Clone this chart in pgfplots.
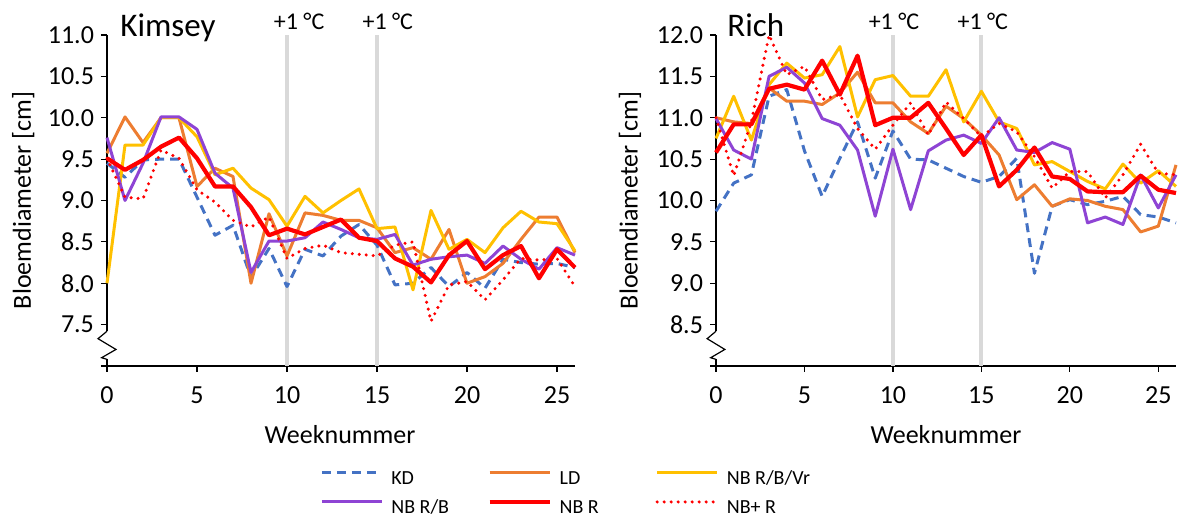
\documentclass[border=0pt]{standalone}
\usepackage{pgfplots}
\pgfplotsset{compat=1.18}
\usepackage{pgfplotstable}
\usepackage{fontspec}
\setmainfont{Carlito}

\definecolor{kd}{HTML}{4472C4}
\definecolor{ld}{HTML}{ED7D31}
\definecolor{vr}{HTML}{FFC000}
\definecolor{rb}{HTML}{8E44D4}
\definecolor{nbr}{HTML}{FF0000}
\definecolor{gline}{HTML}{D9D9D9}

\pgfplotstableread{
w KD LD Vr RB R NBR
0 9.45 9.57 8.00 9.76 9.51 9.51
1 9.28 10.01 9.67 9.00 9.37 9.04
2 9.49 9.70 9.67 9.45 9.49 9.02
3 9.50 10.00 10.00 10.01 9.65 9.61
4 9.50 10.00 10.00 10.01 9.76 9.51
5 9.04 9.17 9.77 9.86 9.51 9.13
6 8.58 9.39 9.31 9.33 9.17 8.98
7 8.70 9.29 9.39 9.15 9.17 8.76
8 8.07 8.00 9.15 8.13 8.92 8.68
9 8.42 8.84 9.01 8.51 8.58 8.80
10 7.96 8.33 8.69 8.51 8.66 8.30
11 8.41 8.85 9.05 8.55 8.59 8.42
12 8.33 8.82 8.85 8.74 8.68 8.46
13 8.57 8.76 9.00 8.65 8.77 8.37
14 8.71 8.76 9.14 8.55 8.55 8.35
15 8.46 8.67 8.66 8.53 8.51 8.33
16 7.98 8.37 8.68 8.59 8.30 8.46
17 8.00 8.43 7.92 8.22 8.20 8.50
18 8.19 8.29 8.88 8.29 8.01 7.54
19 7.96 8.65 8.41 8.32 8.34 7.98
20 8.13 8.00 8.53 8.34 8.51 8.02
21 7.94 8.08 8.37 8.24 8.17 7.80
22 8.29 8.24 8.67 8.45 8.34 8.04
23 8.25 8.53 8.87 8.29 8.45 8.30
24 8.23 8.80 8.74 8.17 8.06 8.28
25 8.24 8.80 8.72 8.43 8.41 8.30
26 8.19 8.37 8.39 8.34 8.19 7.96
}\kimsey

\pgfplotstableread{
w KD LD Vr RB R NBR
0 9.87 11.00 10.75 10.99 10.58 11.00
1 10.21 10.95 11.26 10.61 10.92 10.30
2 10.31 10.93 10.73 10.50 10.92 10.95
3 11.26 11.36 11.40 11.50 11.35 12.00
4 11.34 11.20 11.66 11.61 11.40 11.52
5 10.60 11.20 11.48 11.42 11.34 11.62
6 10.05 11.16 11.52 10.99 11.69 11.22
7 10.51 11.30 11.86 10.91 11.28 11.28
8 10.95 11.55 11.01 10.61 11.75 10.87
9 10.27 11.18 11.46 9.81 10.91 10.62
10 10.84 11.18 11.51 10.62 11.00 10.91
11 10.50 10.95 11.26 9.89 11.00 11.18
12 10.49 10.81 11.26 10.60 11.18 10.79
13 10.39 11.14 11.58 10.73 10.87 11.19
14 10.29 10.99 10.95 10.79 10.55 10.99
15 10.22 10.79 11.32 10.69 10.79 10.77
16 10.29 10.55 10.95 11.00 10.17 10.93
17 10.51 10.01 10.87 10.61 10.37 10.83
18 9.12 10.19 10.43 10.58 10.64 10.53
19 9.93 9.93 10.47 10.70 10.29 10.15
20 10.01 10.02 10.35 10.62 10.26 10.35
21 9.95 10.00 10.23 9.73 10.11 10.35
22 9.99 9.93 10.14 9.80 10.10 10.03
23 10.05 9.89 10.44 9.71 10.10 10.31
24 9.83 9.62 10.21 10.31 10.30 10.68
25 9.80 9.69 10.36 9.91 10.13 10.33
26 9.73 10.43 10.17 10.31 10.09 10.31
}\rich

\pgfplotsset{
  kdstyle/.style={kd, line width=1.5pt, dash pattern=on 4.5pt off 3pt},
  ldstyle/.style={ld, line width=1.5pt},
  vrstyle/.style={vr, line width=1.5pt},
  rbstyle/.style={rb, line width=1.5pt},
  rstyle/.style={nbr, line width=2.1pt},
  nbrstyle/.style={nbr, line width=1.7pt, line cap=round, dash pattern=on 0pt off 3.5pt},
  base/.style={
    scale only axis, height=165.5pt,
    xmin=0, xmax=26, xtick={0,5,...,25},
    axis x line*=bottom, axis y line*=left,
    axis line style={-, line width=0.6pt},
    tick align=outside, major tick length=3pt,
    tick style={black, line width=0.6pt},
    /pgf/number format/assume math mode=true,
    tick label style={font=\fontsize{13}{15}\selectfont},
    yticklabel style={/pgf/number format/fixed, /pgf/number format/fixed zerofill, /pgf/number format/precision=1},
    xticklabel style={yshift=-4pt},
    label style={font=\fontsize{13}{15}\selectfont},
    xlabel={Weeknummer},
    ylabel={Bloemdiameter [cm]},
    clip=false,
    every axis plot/.append style={line join=round},
  },
  legax/.style={
    at={(0pt,0pt)}, anchor=south west, scale only axis, width=234pt, height=165.5pt,
    hide axis, xmin=0, xmax=1, ymin=0, ymax=1,
    legend cell align=left,
    legend style={anchor=north west, draw=none, fill=none, inner sep=0pt,
      row sep=5.5pt, column sep=4pt, font=\fontsize{10}{12}\selectfont,
      nodes={inner sep=0pt, text height=7pt, text depth=2pt}},
    legend image code/.code={\draw (0pt,3.2pt) -- (30pt,3.2pt);},
  },
}

\begin{document}
\begin{tikzpicture}
\useasboundingbox (-53.5pt,-81.5pt) rectangle (536pt,183pt);
% Kimsey
\begin{axis}[base, at={(0pt,0pt)}, anchor=south west, width=234pt,
  ymin=7, ymax=11, ytick={7.5,8,...,11}, extra y ticks={7}, extra y tick labels={},
  xlabel style={at={(axis description cs:0.498,0)}, anchor=center, yshift=-34.5pt},
  ylabel style={at={(axis description cs:-0.179,0.5)}, anchor=center}]
\addplot[gline, line width=2pt, forget plot] coordinates {(10,7) (10,11)};
\addplot[gline, line width=2pt, forget plot] coordinates {(15,7) (15,11)};
\addplot[kdstyle] table[x=w, y=KD] {\kimsey};
\addplot[ldstyle] table[x=w, y=LD] {\kimsey};
\addplot[vrstyle] table[x=w, y=Vr] {\kimsey};
\addplot[rbstyle] table[x=w, y=RB] {\kimsey};
\addplot[rstyle] table[x=w, y=R] {\kimsey};
\addplot[nbrstyle] table[x=w, y=NBR] {\kimsey};
\fill[white] (axis cs:-0.6,7.08) rectangle (axis cs:0.6,7.42);
\draw[line width=0.6pt, line join=miter] (axis cs:0,7.42) -- (axis cs:-0.5,7.33) -- (axis cs:0.5,7.2) -- (axis cs:-0.3,7.1) -- (axis cs:0,7.08);
\node[anchor=base west, inner sep=0pt, font=\fontsize{16.5}{19}\selectfont, xshift=6.5pt, yshift=-0.5pt] at (rel axis cs:0,1) {Kimsey};
\node[anchor=base, font=\fontsize{12}{14}\selectfont, yshift=2.5pt] at (axis cs:10.67,11) {+1 °C};
\node[anchor=base, font=\fontsize{12}{14}\selectfont, yshift=2.5pt] at (axis cs:15.6,11) {+1 °C};
\end{axis}
% Rich
\begin{axis}[base, at={(304.5pt,0pt)}, anchor=south west, width=230pt,
  ymin=8, ymax=12, ytick={8.5,9,...,12}, extra y ticks={8}, extra y tick labels={},
  xlabel style={at={(axis description cs:0.5,0)}, anchor=center, yshift=-34.5pt},
  ylabel style={at={(axis description cs:-0.187,0.5)}, anchor=center}]
\addplot[gline, line width=2pt, forget plot] coordinates {(10,8) (10,12)};
\addplot[gline, line width=2pt, forget plot] coordinates {(15,8) (15,12)};
\addplot[kdstyle] table[x=w, y=KD] {\rich};
\addplot[ldstyle] table[x=w, y=LD] {\rich};
\addplot[vrstyle] table[x=w, y=Vr] {\rich};
\addplot[rbstyle] table[x=w, y=RB] {\rich};
\addplot[rstyle] table[x=w, y=R] {\rich};
\addplot[nbrstyle] table[x=w, y=NBR] {\rich};
\fill[white] (axis cs:-0.6,8.08) rectangle (axis cs:0.6,8.42);
\draw[line width=0.6pt, line join=miter] (axis cs:0,8.42) -- (axis cs:-0.5,8.33) -- (axis cs:0.5,8.2) -- (axis cs:-0.3,8.1) -- (axis cs:0,8.08);
\node[anchor=base west, inner sep=0pt, font=\fontsize{16.5}{19}\selectfont, xshift=5.5pt, yshift=-0.5pt] at (rel axis cs:0,1) {Rich};
\node[anchor=base, font=\fontsize{12}{14}\selectfont, yshift=2.5pt] at (axis cs:10.06,12) {+1 °C};
\node[anchor=base, font=\fontsize{12}{14}\selectfont, yshift=2.5pt] at (axis cs:15.08,12) {+1 °C};
\end{axis}
% Legend columns
\begin{axis}[legax, legend style={at={(0.455,-0.314)}}]
\addlegendimage{kdstyle}\addlegendentry{KD}
\addlegendimage{rbstyle}\addlegendentry{NB R/B}
\end{axis}
\begin{axis}[legax, legend style={at={(0.812,-0.314)}}]
\addlegendimage{ldstyle}\addlegendentry{LD}
\addlegendimage{rstyle}\addlegendentry{NB R}
\end{axis}
\begin{axis}[legax, legend style={at={(1.171,-0.314)}}]
\addlegendimage{vrstyle}\addlegendentry{NB R/B/Vr}
\addlegendimage{nbrstyle}\addlegendentry{NB+ R}
\end{axis}
\end{tikzpicture}
\end{document}
